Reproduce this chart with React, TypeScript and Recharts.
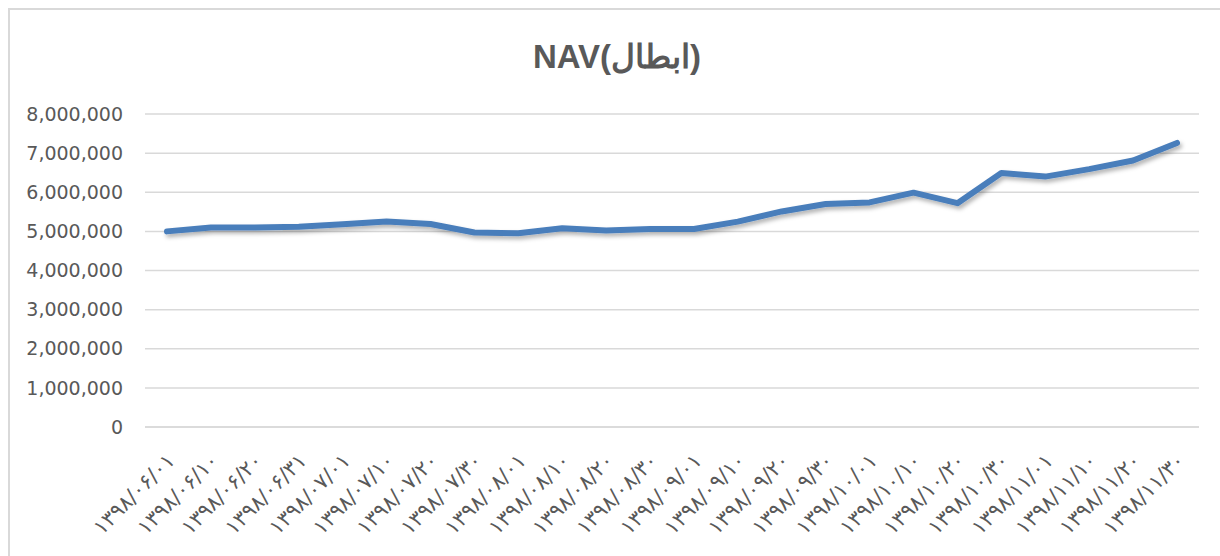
import React from 'react';
import { LineChart, Line, XAxis, YAxis, CartesianGrid } from 'recharts';

const TITLE = 'NAV(ابطال)';

const dates = [
    '۱۳۹۸/۰۶/۰۱', '۱۳۹۸/۰۶/۱۰', '۱۳۹۸/۰۶/۲۰', '۱۳۹۸/۰۶/۳۱',
    '۱۳۹۸/۰۷/۰۱', '۱۳۹۸/۰۷/۱۰', '۱۳۹۸/۰۷/۲۰', '۱۳۹۸/۰۷/۳۰',
    '۱۳۹۸/۰۸/۰۱', '۱۳۹۸/۰۸/۱۰', '۱۳۹۸/۰۸/۲۰', '۱۳۹۸/۰۸/۳۰',
    '۱۳۹۸/۰۹/۰۱', '۱۳۹۸/۰۹/۱۰', '۱۳۹۸/۰۹/۲۰', '۱۳۹۸/۰۹/۳۰',
    '۱۳۹۸/۱۰/۰۱', '۱۳۹۸/۱۰/۱۰', '۱۳۹۸/۱۰/۲۰', '۱۳۹۸/۱۰/۳۰',
    '۱۳۹۸/۱۱/۰۱', '۱۳۹۸/۱۱/۱۰', '۱۳۹۸/۱۱/۲۰', '۱۳۹۸/۱۱/۳۰'
];

// NAV values
const navValues = [
    5000000, 5100000, 5100000, 5120000, 5180000, 5250000, 5190000, 4970000,
    4950000, 5080000, 5020000, 5060000, 5060000, 5250000, 5510000, 5700000,
    5740000, 5990000, 5720000, 6490000, 6400000, 6590000, 6810000, 7260000
];

const yTicks = [0, 1000000, 2000000, 3000000, 4000000, 5000000, 6000000, 7000000, 8000000];

const data = dates.map((d, i) => ({ date: d, nav: navValues[i] }));

const TEXT_GRAY = '#595959';
const GRID_GRAY = '#d9d9d9';
const LINE_BLUE = '#4a7ebb';

const DateTick = (props: any) => {
    const { x, y, payload } = props;
    return (
        <g transform={`translate(${x - 1},${y + 17})`}>
            <text x={0} y={0} dy={14} textAnchor="end" fill={TEXT_GRAY} fontSize={21}
                fontFamily="'DejaVu Sans', sans-serif" transform="rotate(-45)">
                {payload.value}
            </text>
        </g>
    );
};

export default function App() {
    return (
        <div style={{ position: 'fixed', left: 0, top: 0, width: 1220, height: 556, overflow: 'hidden', background: '#fff' }}>
            <div style={{ position: 'absolute', left: 8, top: 8, width: 1240, height: 580, borderLeft: `2px solid ${GRID_GRAY}`, borderTop: `2px solid ${GRID_GRAY}` }} />
            <svg width={0} height={0} style={{ position: 'absolute' }}>
                <defs>
                    <filter id="lineShadow" x="-5%" y="-20%" width="110%" height="140%">
                        <feDropShadow dx={2} dy={3} stdDeviation={2} floodColor="#000" floodOpacity={0.3} />
                    </filter>
                </defs>
            </svg>
            <div style={{ position: 'absolute', left: 0, top: 0 }}>
                <LineChart width={1220} height={556} data={data} margin={{ top: 114, right: 21, bottom: 9, left: 0 }}>
                    <text x={617} y={68} textAnchor="middle" fill={TEXT_GRAY} fontSize={33} fontWeight="bold"
                        fontFamily="'Liberation Sans', Arial, sans-serif">
                        {TITLE}
                    </text>
                    <CartesianGrid vertical={false} stroke={GRID_GRAY} strokeWidth={1.5} />
                    <XAxis dataKey="date" interval={0} height={120} tick={<DateTick />} tickLine={false}
                        padding={{ left: 22, right: 22 }}
                        axisLine={{ stroke: GRID_GRAY, strokeWidth: 1.5 }} />
                    <YAxis width={145} domain={[0, 8000000]} ticks={yTicks} tickLine={false} axisLine={false}
                        tickMargin={16} tickFormatter={(v: number) => v.toLocaleString('en-US')}
                        tick={{ fill: TEXT_GRAY, fontSize: 19, fontFamily: "'DejaVu Sans', sans-serif" }} />
                    <Line type="linear" dataKey="nav" stroke={LINE_BLUE} strokeWidth={6} dot={false}
                        strokeLinecap="round" strokeLinejoin="round" filter="url(#lineShadow)"
                        isAnimationActive={false} />
                </LineChart>
            </div>
        </div>
    );
}
